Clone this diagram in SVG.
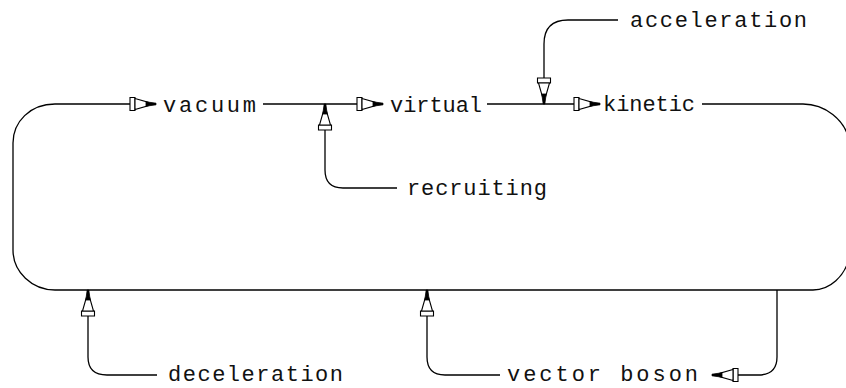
<svg xmlns="http://www.w3.org/2000/svg" width="846" height="388" viewBox="0 0 846 388">
  <style>
    .ln { fill: none; stroke: #000; stroke-width: 1.3; }
    .lbl { font-family: "Liberation Mono", "DejaVu Sans Mono", monospace; font-size: 22px; fill: #111; }
    .ao { fill: #fff; stroke: #000; stroke-width: 1.1; }
    .af { fill: #000; stroke: #000; stroke-width: 0.8; }
  </style>
  <defs>
    <g id="arr">
      <path class="ao" d="M-26,-6.5 H-21 V6.5 H-26 Z"/>
      <path class="ao" d="M-21,-5.5 L-8,-1.8 L-8,1.8 L-21,5.5 Z"/>
      <path class="af" d="M-10,-2.2 L0,-0.8 L0,0.8 L-10,2.2 Z"/>
    </g>
  </defs>
  <rect width="846" height="388" fill="#fff"/>
  <g id="connectors">
    <path class="ln" d="M156,104 H55 C30,104 13,122 13,143 V250 C13,272 32,290 55,290 H813 C830,290 845,276 849,258 V140 C845,120 825,104 803,104 H702"/>
    <path class="ln" d="M263,104 H383"/>
    <path class="ln" d="M487,104 H600"/>
    <path class="ln" d="M618,20 H568 Q544,20 544,44 V104"/>
    <path class="ln" d="M325,104 V170 Q325,188 343,188 H397"/>
    <path class="ln" d="M88,290 V357 Q88,375 107,375 H157"/>
    <path class="ln" d="M427,290 V357 Q427,375 445,375 H500"/>
    <path class="ln" d="M712,375 H758 Q777,375 777,357 V290"/>
    <use href="#arr" transform="translate(156,104)"/>
    <use href="#arr" transform="translate(383,104)"/>
    <use href="#arr" transform="translate(600,104)"/>
    <use href="#arr" transform="translate(544,104) rotate(90)"/>
    <use href="#arr" transform="translate(325,104) rotate(-90)"/>
    <use href="#arr" transform="translate(88,290) rotate(-90)"/>
    <use href="#arr" transform="translate(427,290) rotate(-90)"/>
    <use href="#arr" transform="translate(712,375) rotate(180)"/>
  </g>
  <g id="vacuum"><text class="lbl" x="163" y="112" textLength="93" lengthAdjust="spacing">vacuum</text></g>
  <g id="virtual"><text class="lbl" x="390" y="112" textLength="92" lengthAdjust="spacing">virtual</text></g>
  <g id="kinetic"><text class="lbl" x="603" y="111" textLength="92" lengthAdjust="spacing">kinetic</text></g>
  <g id="acceleration"><text class="lbl" x="630" y="27" textLength="177" lengthAdjust="spacing">acceleration</text></g>
  <g id="recruiting"><text class="lbl" x="407" y="195" textLength="140" lengthAdjust="spacing">recruiting</text></g>
  <g id="deceleration"><text class="lbl" x="168" y="381" textLength="175" lengthAdjust="spacing">deceleration</text></g>
  <g id="vector-boson"><text class="lbl" x="507" y="381" textLength="191" lengthAdjust="spacing">vector boson</text></g>
</svg>
